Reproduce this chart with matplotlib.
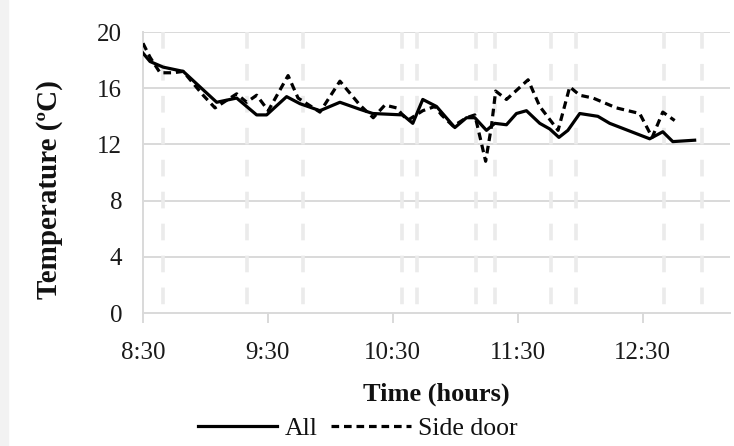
import matplotlib
matplotlib.use("Agg")
from matplotlib import pyplot as plt
from matplotlib.patches import Rectangle

plt.rcParams['font.family'] = ['Liberation Serif', 'DejaVu Serif']
plt.rcParams['lines.scale_dashes'] = False

# minutes after 8:30
all_t = [0, 3.4, 9.7, 19.3, 28.8, 35.4, 45.0, 54.6, 59.4, 69.0, 75.4, 85.0, 94.6,
         104.2, 110.4, 124.8, 129.6, 134.4, 141.0, 149.8, 155.4, 159.4, 165.0,
         169.0, 174.6, 179.4, 184.2, 190.6, 195.4, 199.8, 204.1, 209.8, 218.5,
         224.2, 243.4, 249.7, 254.5, 265.0]
all_temp = [18.5, 17.9, 17.5, 17.2, 15.9, 15.0, 15.3, 14.1, 14.1, 15.4, 14.9, 14.4,
            15.0, 14.5, 14.2, 14.1, 13.5, 15.2, 14.7, 13.2, 13.9, 13.9, 13.0,
            13.5, 13.4, 14.2, 14.4, 13.5, 13.1, 12.5, 13.0, 14.2, 14.0,
            13.5, 12.4, 12.9, 12.2, 12.3]

side_t = [0, 3.4, 8.2, 14.6, 19.3, 28.9, 34.6, 45.0, 49.8, 54.6, 60.2, 69.7, 74.5,
          85.0, 94.6, 104.2, 110.6, 116.2, 121.8, 127.0, 134.4, 140.2, 143.4, 149.0,
          155.4, 159.4, 164.6, 167.4, 169.4, 174.6, 185.0, 190.6, 199.4, 205.0,
          209.8, 216.2, 227.4, 238.6, 244.6, 249.7, 255.4]
side_temp = [19.2, 18.2, 17.1, 17.1, 17.2, 15.5, 14.6, 15.6, 15.0, 15.5, 14.4, 16.9,
             15.3, 14.3, 16.5, 14.8, 13.9, 14.8, 14.6, 13.7, 14.4, 14.7, 14.1, 13.3,
             13.9, 14.1, 10.8, 13.3, 15.8, 15.2, 16.6, 14.7, 13.0, 16.1,
             15.5, 15.3, 14.6, 14.2, 12.5, 14.3, 13.7]

# faint dashed markers in the background (minutes after 8:30)
marks = [9.6, 50, 77, 124.5, 131.5, 160, 169, 196, 208, 250.5, 268.5]

hour_ticks = [0, 60, 120, 180, 240]
hour_labels = ['8:30', '9:30', '10:30', '11:30', '12:30']
y_ticks = [0, 4, 8, 12, 16, 20]

fig = plt.figure(figsize=(7.34, 4.46), dpi=100)
fig.patches.append(Rectangle((0, 0), 8 / 734, 1, transform=fig.transFigure,
                             color='#f2f2f2', zorder=0))
ax = fig.add_axes((0.1948, 0.2982, 0.7998, 0.6300))

grid_col = '#d9d9d9'
for v in y_ticks[1:]:
    ax.axhline(v, color=grid_col, lw=1.4, zorder=1)
ax.vlines(marks, 20, 0, colors='#ebebeb', lw=2.6, linestyles=(0, (12, 11)), zorder=1)

ax.plot(all_t, all_temp, color='black', lw=2.3, zorder=3, label='All')
ax.plot(side_t, side_temp, color='black', lw=2.3, ls=(0, (5.5, 3.5)), zorder=3,
        label='Side door')

ax.set_xlim(0, 282)
ax.set_ylim(0, 20)
ax.set_yticks(y_ticks)
ax.set_xticks(hour_ticks, hour_labels)

for s in ['top', 'right']:
    ax.spines[s].set_visible(False)
ax.spines['left'].set_color(grid_col)
ax.spines['bottom'].set_color(grid_col)
ax.spines['left'].set_linewidth(1.4)
ax.spines['bottom'].set_linewidth(1.4)
ax.tick_params(axis='y', length=0, pad=15, labelsize=18, colors='#1a1a1a')
ax.tick_params(axis='x', length=7, width=1.4, color=grid_col, pad=14, labelsize=18,
               labelcolor='#1a1a1a')

ax.set_xlabel('Time (hours)', fontsize=19, fontweight='bold', labelpad=13,
              color='#111111')
ax.set_ylabel('Temperature (ºC)', fontsize=21, fontweight='bold',
              color='#111111')
ax.yaxis.set_label_coords(-0.136, 0.441)

ax.legend(loc='center', bbox_to_anchor=(0.366, -0.41), ncol=2, frameon=False,
          fontsize=18.5, handlelength=3.1, columnspacing=0.5, handletextpad=0.3,
          borderaxespad=0, labelcolor='#111111')

fig.savefig('out.png', dpi=100)
